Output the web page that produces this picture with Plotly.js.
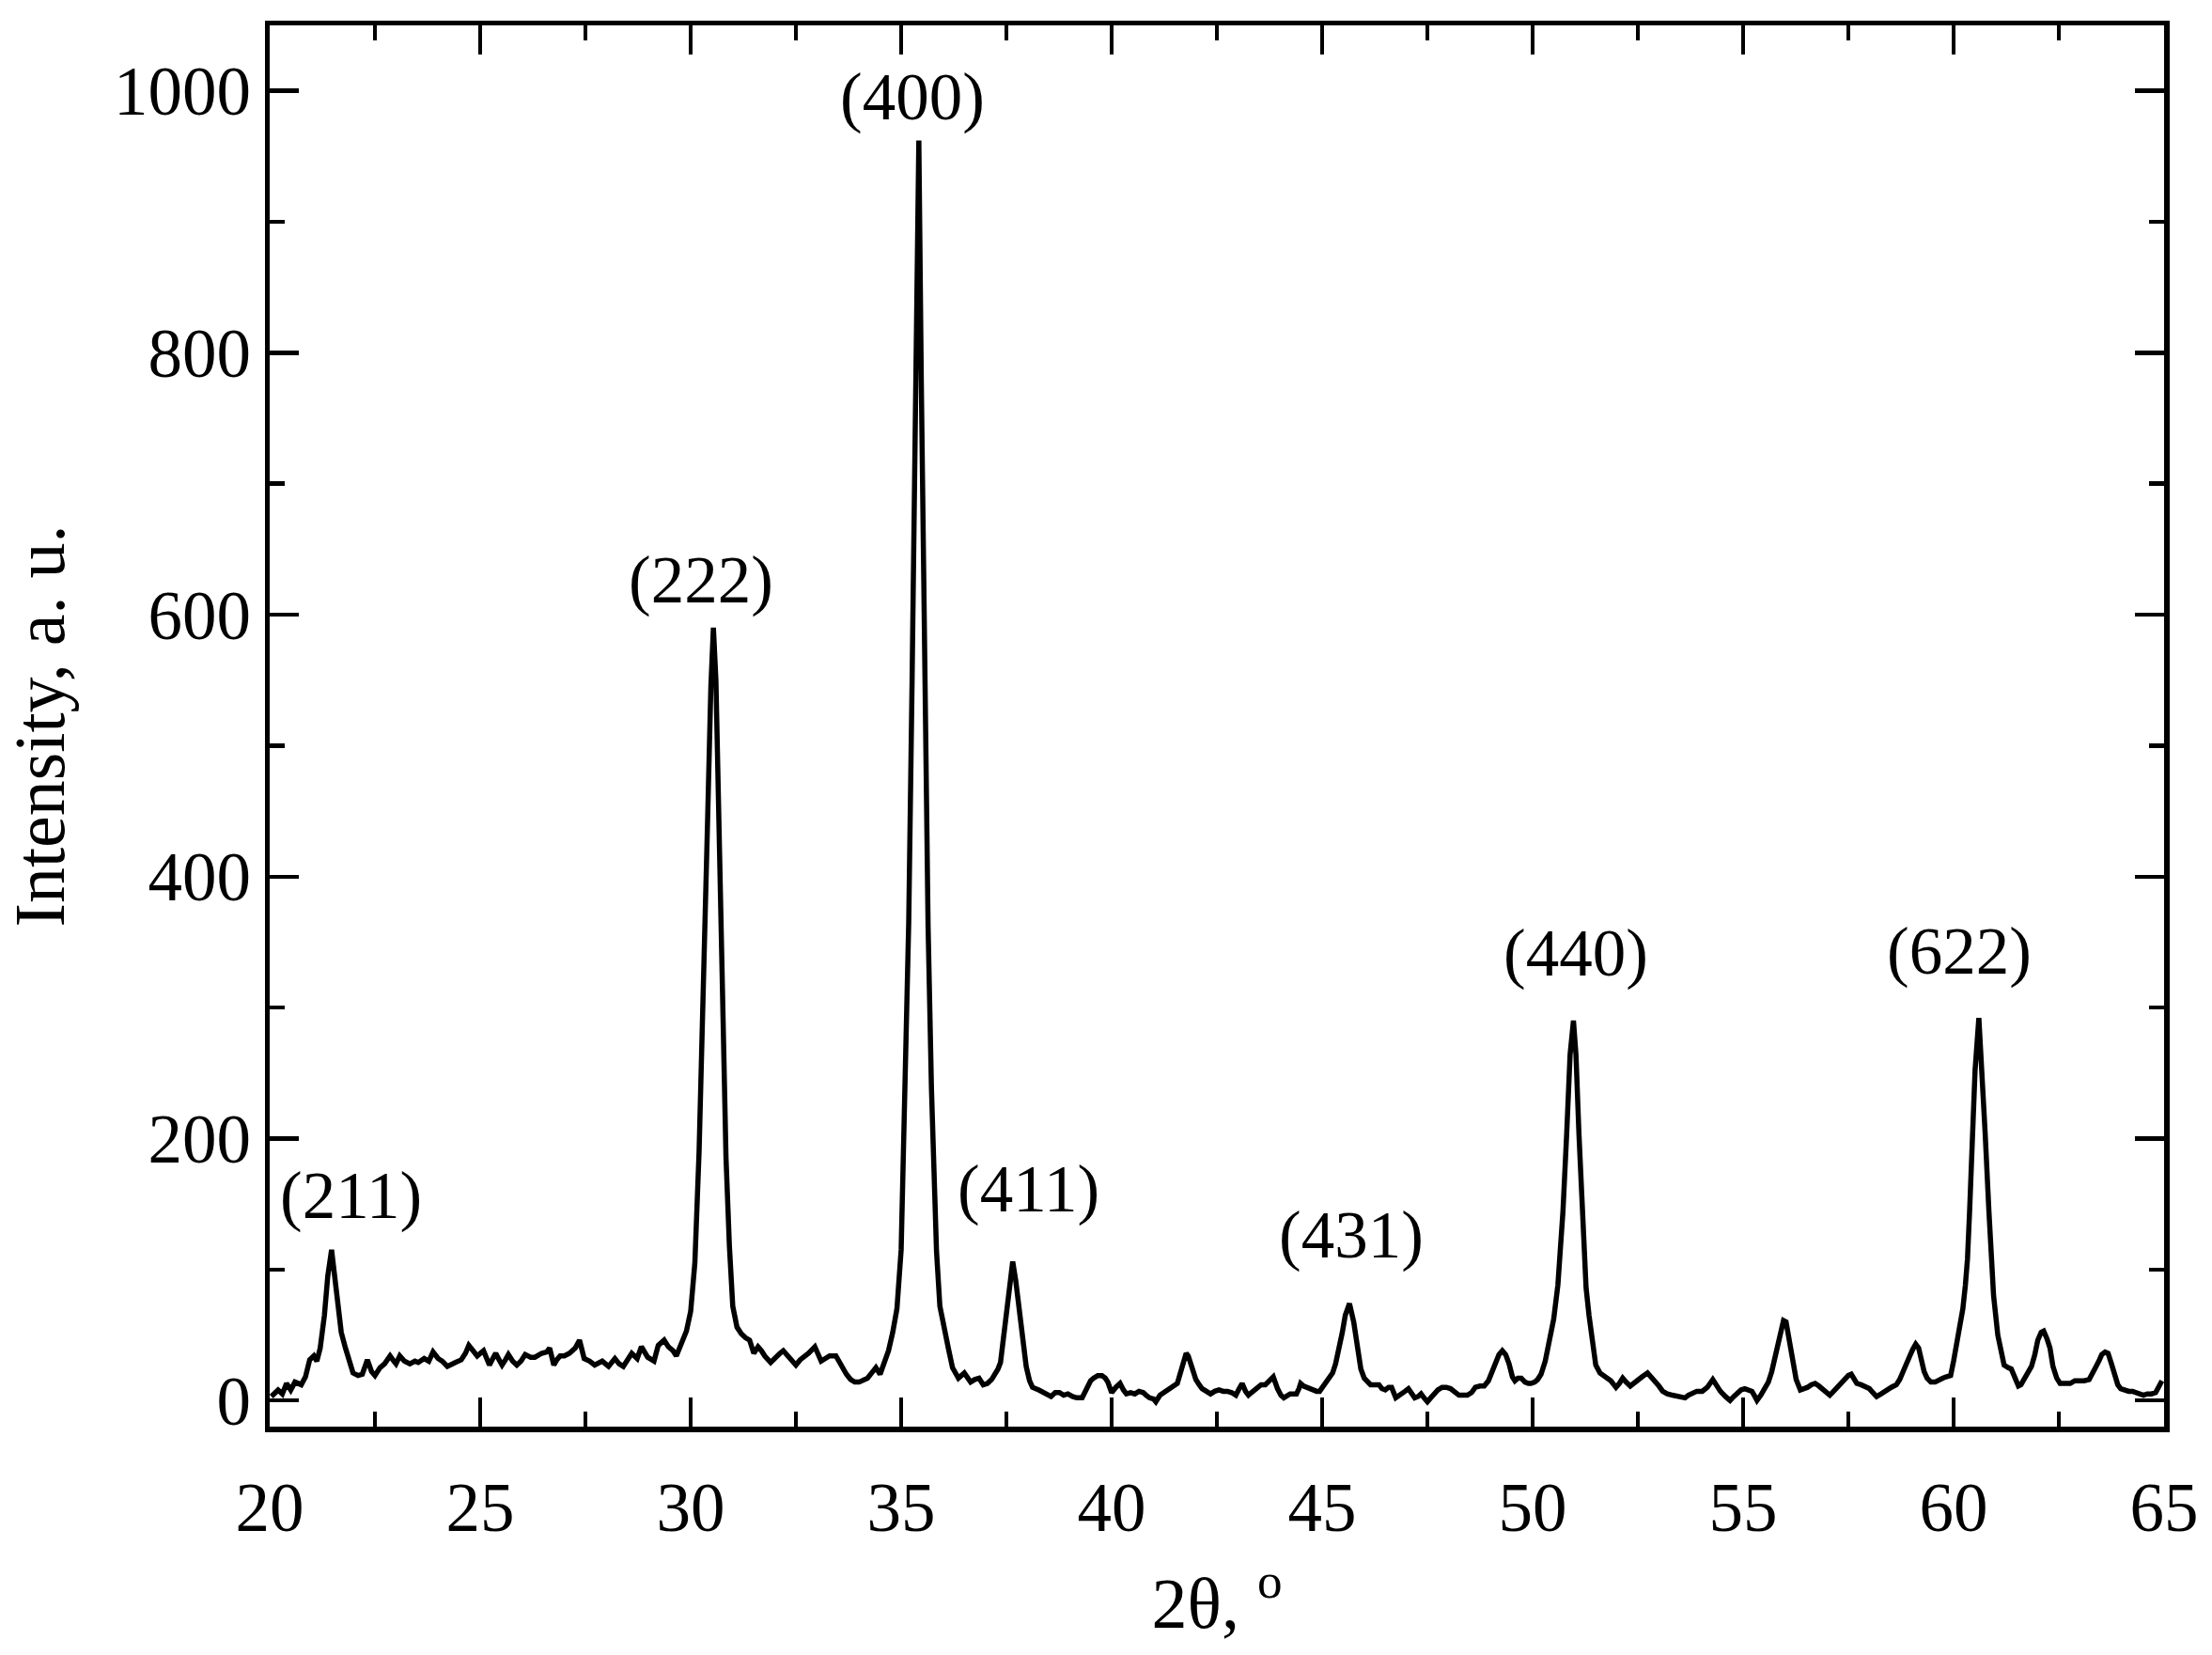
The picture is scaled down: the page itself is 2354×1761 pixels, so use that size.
<!DOCTYPE html>
<html>
<head>
<meta charset="utf-8">
<script src="https://cdn.plot.ly/plotly-3.0.1.min.js"></script>
<style>html,body{margin:0;padding:0;background:#fff;}#chart{width:2354px;height:1761px;}</style>
</head>
<body>
<div id="chart"></div>
<script>
// 2θ values (degrees)
const twoTheta = [
20.04,20.2,20.3,20.4,20.5,20.6,20.75,20.85,20.95,21.05,21.12,21.2,21.3,21.38,21.47,21.55,21.62,21.7,21.8,21.9,21.98,22.1,22.2,22.32,22.42,22.5,22.62,22.73,22.86,22.95,
23.0,23.09,23.2,23.33,23.45,23.53,23.67,23.78,23.88,24.0,24.1,24.22,24.32,24.41,24.55,24.65,24.73,24.83,24.93,25.08,25.22,25.3,25.37,25.45,25.52,25.6,25.67,25.77,25.87,25.97,
26.07,26.2,26.3,26.46,26.58,26.65,26.75,26.82,26.9,27.0,27.12,27.26,27.36,27.47,27.6,27.72,27.82,27.9,28.05,28.12,28.2,28.3,28.4,28.5,28.6,28.73,28.83,28.98,29.13,29.23,
29.3,29.37,29.47,29.58,29.66,29.76,29.9,30.0,30.1,30.2,30.3,30.4,30.48,30.54,30.6,30.68,30.76,30.84,30.92,31.0,31.1,31.2,31.3,31.4,31.5,31.6,31.68,31.76,31.9,32.03,
32.12,32.2,32.35,32.5,32.6,32.7,32.8,32.95,33.1,33.2,33.3,33.45,33.58,33.7,33.8,33.9,34.0,34.1,34.2,34.3,34.4,34.5,34.6,34.7,34.8,34.9,35.0,35.1,35.18,35.26,
35.34,35.42,35.48,35.56,35.64,35.72,35.84,35.92,36.03,36.12,36.22,36.36,36.5,36.65,36.75,36.85,36.95,37.05,37.15,37.22,37.3,37.36,37.42,37.48,37.56,37.65,37.72,37.79,37.87,37.97,
38.05,38.12,38.27,38.42,38.56,38.66,38.76,38.86,38.96,39.07,39.17,39.3,39.42,39.5,39.57,39.67,39.77,39.85,39.91,40.0,40.1,40.2,40.28,40.35,40.45,40.55,40.65,40.75,40.82,40.9,
41.0,41.05,41.15,41.25,41.36,41.46,41.56,41.66,41.72,41.77,41.82,41.87,41.95,42.0,42.08,42.15,42.25,42.35,42.45,42.55,42.65,42.75,42.85,42.95,43.03,43.1,43.18,43.25,43.32,43.4,
43.48,43.55,43.65,43.75,43.84,43.94,44.02,44.09,44.17,44.24,44.32,44.39,44.45,44.49,44.56,44.64,44.72,44.79,44.87,44.94,45.02,45.1,45.18,45.25,45.32,45.4,45.48,45.55,45.65,45.75,
45.85,45.92,46.0,46.08,46.15,46.25,46.35,46.42,46.5,46.58,46.65,46.75,46.82,46.9,46.97,47.05,47.12,47.2,47.28,47.35,47.42,47.5,47.58,47.65,47.75,47.85,47.95,48.05,48.15,48.25,
48.35,48.45,48.55,48.64,48.75,48.85,48.95,49.05,49.12,49.2,49.28,49.36,49.44,49.52,49.58,49.65,49.73,49.82,49.9,49.96,50.05,50.12,50.2,50.3,50.4,50.5,50.6,50.67,50.72,50.81,
50.89,50.97,51.03,51.1,51.18,51.27,51.34,51.4,51.5,51.6,51.69,51.78,51.86,51.93,51.98,52.06,52.14,52.22,52.32,52.4,52.5,52.6,52.73,52.82,52.91,53.0,53.09,53.2,53.32,53.45,
53.62,53.7,53.8,53.9,54.03,54.15,54.28,54.36,54.46,54.58,54.69,54.78,54.87,54.95,55.04,55.12,55.21,55.28,55.33,55.42,55.5,55.6,55.68,55.74,55.8,55.88,55.96,56.02,56.08,56.13,
56.18,56.26,56.36,56.45,56.53,56.62,56.71,56.8,56.88,56.97,57.06,57.15,57.24,57.32,57.41,57.5,57.57,57.64,57.7,57.8,57.88,58.0,58.08,58.17,58.28,58.4,58.52,58.64,58.72,58.8,
58.88,58.96,59.03,59.1,59.17,59.24,59.3,59.37,59.46,59.56,59.65,59.74,59.82,59.93,60.0,60.04,60.1,60.17,60.22,60.28,60.33,60.38,60.45,60.51,60.6,60.68,60.75,60.84,60.91,60.95,
61.05,61.14,61.2,61.3,61.37,61.45,61.54,61.6,61.72,61.85,61.93,62.0,62.08,62.14,62.22,62.29,62.36,62.45,62.53,62.65,62.77,62.88,63.0,63.1,63.22,63.3,63.37,63.45,63.52,63.6,
63.67,63.75,63.82,63.9,63.97,64.06,64.16,64.25,64.33,64.43,64.51,64.6,64.7,64.8,64.88,64.95
];
// Intensity (a. u.)
const intensity = [
3,8,5,13,8,14,12,18,31,34,30,40,65,95,115,95,70,52,40,30,21,19,20,31,22,19,25,28,34,30,
28,34,30,28,30,29,32,30,37,32,30,26,28,29,31,36,42,38,34,38,27,32,36,31,27,31,35,30,27,30,
35,33,33,36,37,40,27,31,34,34,36,40,46,32,30,27,29,30,26,29,32,28,26,31,36,32,41,33,30,42,
44,46,41,38,34,43,53,68,105,190,300,440,545,590,550,430,295,185,118,72,56,51,48,46,36,41,38,34,29,34,
36,38,32,27,31,33,36,41,30,32,34,34,26,20,16,14,14,15,17,21,25,20,30,38,52,70,115,240,365,550,
775,962,775,550,362,238,114,72,52,40,25,17,21,14,16,17,12,13,16,19,24,29,45,65,88,106,92,75,53,26,
15,10,8,5,3,6,6,4,5,3,2,2,10,15,17,19,19,17,14,6,10,13,8,5,6,5,7,6,4,2,
1,-1,4,6,8,10,13,24,32,36,34,28,20,16,12,9,7,5,7,8,7,7,6,4,9,13,7,4,6,8,
10,12,12,15,18,9,4,2,4,5,5,5,9,13,11,10,8,8,7,7,11,15,19,21,28,39,52,65,74,60,
36,24,17,14,12,12,12,9,8,10,10,2,4,5,7,9,6,2,3,5,2,-1,2,5,8,10,10,9,6,4,
4,4,6,10,11,11,15,24,30,35,38,35,28,18,15,17,17,14,13,13,14,16,20,30,46,62,88,115,144,204,
264,290,264,204,144,86,65,50,27,21,19,17,15,12,10,13,17,14,11,13,15,18,21,18,15,11,7,5,4,3,
2,4,6,7,7,10,16,12,7,3,0,3,6,8,9,8,7,3,0,4,8,14,22,30,40,52,61,60,50,38,
29,16,8,9,10,12,13,11,9,6,4,7,10,13,17,19,20,16,13,12,11,9,6,3,5,8,10,12,16,22,
29,34,39,43,40,30,22,17,14,14,15,17,18,19,30,37,46,58,70,88,108,144,204,252,292,252,204,144,101,80,
50,35,27,25,24,18,11,12,19,26,35,46,52,53,47,40,26,17,13,13,13,15,15,15,16,20,25,30,35,37,
36,28,20,12,9,8,7,7,6,5,4,5,5,6,12,15
];
// Peak labels (Miller indices) and their label positions
const peakLabels = ["(211)","(222)","(400)","(411)","(431)","(440)","(622)"];
const labelX = [21.94, 30.25, 35.27, 38.02, 45.69, 51.03, 60.14];
const labelY = [156, 626, 995, 161, 126, 341, 343];

const xTicks = [20,25,30,35,40,45,50,55,60,65];
const yTicks = [0,200,400,600,800,1000];

const FONT = "Liberation Serif, Times New Roman, serif";

const trace = {
  x: twoTheta, y: intensity, type: 'scatter', mode: 'lines',
  line: {color: '#000', width: 5.5}, hoverinfo: 'skip', showlegend: false
};

const annotations = peakLabels.map((t, i) => ({
  x: labelX[i], y: labelY[i], xref: 'x', yref: 'y', text: t, showarrow: false,
  xanchor: 'center', yanchor: 'middle', font: {family: FONT, size: 71, color: '#000'}
}));

const axisCommon = {
  showline: true, linecolor: '#000', linewidth: 5.5, mirror: 'ticks',
  ticks: 'inside', tickcolor: '#000', tickwidth: 4.5, ticklen: 31,
  showgrid: false, zeroline: false,
  tickfont: {family: FONT, size: 73, color: '#000'}
};

const layout = {
  width: 2354, height: 1761,
  margin: {l: 287, r: 51, t: 27, b: 243, pad: 0},
  paper_bgcolor: '#fff', plot_bgcolor: '#fff',
  showlegend: false,
  xaxis: Object.assign({}, axisCommon, {
    range: [20, 65], tickmode: 'array', tickvals: xTicks, ticktext: xTicks.map(String),
    ticklabelstandoff: 18,
    minor: {dtick: 2.5, tick0: 20, ticks: 'inside', ticklen: 16, tickwidth: 4.5, tickcolor: '#000', showgrid: false},
    title: {text: '2θ, <sup>o</sup>', font: {family: FONT, size: 76, color: '#000'}, standoff: 36}
  }),
  yaxis: Object.assign({}, axisCommon, {
    range: [-20, 1050], tickmode: 'array', tickvals: yTicks, ticktext: yTicks.map(String),
    ticklabelstandoff: 0,
    minor: {dtick: 100, tick0: 0, ticks: 'inside', ticklen: 16, tickwidth: 4.5, tickcolor: '#000', showgrid: false},
    title: {text: 'Intensity, a. u.', font: {family: FONT, size: 76, color: '#000'}, standoff: 46}
  }),
  annotations: annotations
};

Plotly.newPlot('chart', [trace], layout, {staticPlot: true, displayModeBar: false});
</script>
</body>
</html>
